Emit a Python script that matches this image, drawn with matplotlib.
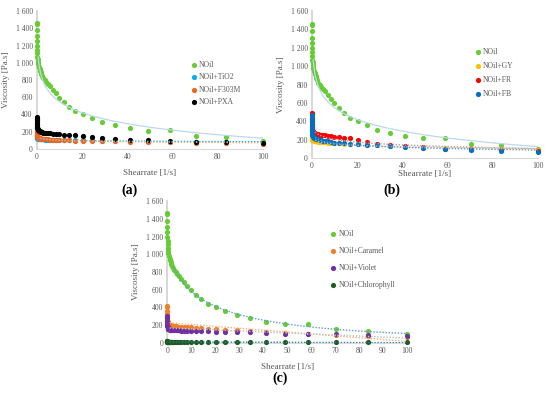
import numpy as np
import matplotlib
matplotlib.use("Agg")
import matplotlib.pyplot as plt
from matplotlib.ticker import FuncFormatter

plt.rcParams['font.family'] = ['Liberation Serif', 'DejaVu Serif']

# shear rate [1/s], same for all samples
shear = [0.01, 0.02, 0.03, 0.05, 0.07, 0.1, 0.14, 0.2, 0.27, 0.37, 0.5, 0.7,
         1.0, 1.2, 1.4, 1.7, 2.0, 2.4, 2.9, 3.5, 4.1, 4.9, 5.9, 7.0, 8.4, 10.0,
         11.9, 14.3, 17.0, 20.3, 24.3, 28.9, 34.6, 41.2, 49.2, 58.8, 70.2, 83.8, 100.0]

# viscosity [Pa.s]
noil = [1460, 1450, 1380, 1310, 1250, 1200, 1150, 1110, 1070, 1040, 1010, 980,
        950, 930, 910, 890, 870, 850, 820, 800, 775, 755, 725, 685, 645, 595,
        545, 490, 440, 400, 357, 310, 275, 238, 213, 218, 152, 138, 95]
# panel (a)
tio2 = [160, 150, 145, 140, 135, 130, 128, 125, 122, 120, 118, 116,
        115, 114, 113, 112, 111, 110, 110, 109, 108, 107, 106, 105, 104, 103,
        102, 101, 100, 99, 98, 96, 94, 92, 89, 86, 82, 78, 74]
f303m = [260, 240, 220, 200, 185, 170, 160, 150, 145, 140, 135, 130,
         128, 125, 122, 120, 118, 116, 114, 112, 111, 110, 108, 106, 104, 102,
         100, 98, 96, 94, 92, 90, 88, 86, 82, 78, 74, 68, 60]
pxa = [370, 360, 345, 330, 310, 290, 275, 260, 245, 235, 225, 218,
       212, 207, 203, 199, 196, 193, 190, 187, 185, 182, 180, 176, 172, 168,
       164, 160, 156, 150, 142, 128, 116, 108, 98, 90, 85, 76, 68]
# panel (b)
gy = [260, 245, 235, 225, 218, 212, 207, 203, 200, 197, 195, 193,
      190, 188, 186, 184, 182, 180, 178, 176, 174, 172, 170, 168, 166, 163,
      160, 157, 154, 150, 145, 138, 130, 122, 113, 105, 97, 90, 82]
fr = [495, 480, 450, 420, 390, 360, 340, 320, 305, 295, 285, 278,
      272, 268, 265, 262, 260, 258, 256, 254, 252, 250, 246, 242, 238, 233,
      228, 222, 214, 196, 172, 152, 138, 130, 116, 102, 94, 82, 80]
fb = [470, 440, 400, 370, 340, 310, 290, 270, 255, 245, 235, 228,
      222, 218, 215, 212, 209, 206, 203, 200, 196, 190, 186, 180, 175, 168,
      163, 158, 154, 149, 144, 138, 130, 123, 109, 94, 87, 73, 65]
# panel (c)
caramel = [420, 400, 360, 320, 290, 260, 240, 230, 220, 215, 210, 205,
           200, 198, 196, 194, 192, 190, 188, 186, 184, 182, 180, 178, 176, 174,
           170, 166, 162, 158, 150, 142, 132, 122, 112, 100, 90, 78, 62]
violet = [300, 280, 250, 220, 200, 185, 175, 168, 162, 158, 155, 152,
          150, 148, 147, 146, 145, 144, 143, 142, 141, 140, 139, 138, 137, 136,
          135, 133, 131, 128, 125, 122, 118, 112, 105, 96, 95, 90, 80]
chloro = [20, 18, 16, 15, 14, 13, 12, 11, 11, 10, 10, 9,
          9, 9, 8, 8, 8, 8, 8, 7, 7, 7, 7, 7, 7, 6,
          6, 6, 6, 6, 6, 5, 5, 5, 5, 5, 5, 5, 5]

GRAY = "#595959"
x = np.array(shear)
DOT = (0, (1, 1.2))


def style_axes(ax, xticks, xpad):
    ax.set_xlim(0, 100)
    ax.set_ylim(0, 1600)
    ax.set_xticks(xticks)
    ax.set_yticks(range(0, 1601, 200))
    ax.yaxis.set_major_formatter(FuncFormatter(lambda v, p: f"{v:,.0f}".replace(",", " ")))
    ax.tick_params(length=0, labelsize=5.5, labelcolor=GRAY, pad=3)
    for s in ["top", "right"]:
        ax.spines[s].set_visible(False)
    ax.spines["left"].set_color("#D4D4D4")
    ax.spines["left"].set_linewidth(1.3)
    ax.spines["bottom"].set_color("#D9D9D9")
    ax.spines["bottom"].set_linewidth(0.8)
    ax.set_ylabel("Viscosity [Pa.s]", fontsize=6.5, color=GRAY, labelpad=4)
    ax.set_xlabel("Shearrate [1/s]", fontsize=6.5, color=GRAY, labelpad=xpad)


def log_trend(ax, y, color, ls, lw, xmin=1.0, start=1.5):
    m = x >= xmin
    b, a = np.polyfit(np.log(x[m]), np.array(y)[m], 1)
    xx = np.linspace(start, 100, 300)
    ax.plot(xx, a + b * np.log(xx), color=color, ls=ls, lw=lw, zorder=4)


def lin_trend(ax, y, color):
    k, c = np.polyfit(x, np.array(y), 1)
    xx = np.array([1.0, 100.0])
    ax.plot(xx, c + k * xx, color=color, ls=DOT, lw=1.0, zorder=4)


def dots(ax, y, color, label):
    ax.scatter(x, y, s=14, color=color, label=label, zorder=3, clip_on=False, linewidths=0)


def legend(ax, bx, by, spacing):
    ax.legend(loc="upper left", bbox_to_anchor=(bx, by), frameon=False, fontsize=5.5,
              handletextpad=0.1, labelspacing=spacing, borderaxespad=0, handlelength=1.2,
              labelcolor=GRAY)


fig = plt.figure(figsize=(5.5, 3.95), dpi=100)

# (a)
ax = fig.add_axes([0.067, 0.623, 0.411, 0.349])
dots(ax, noil, "#66CC33", "NOil")
dots(ax, tio2, "#00B0F0", "NOil+TiO2")
dots(ax, f303m, "#F0641E", "NOil+F303M")
dots(ax, pxa, "#000000", "NOil+PXA")
log_trend(ax, noil, "#BDD7EE", "-", 0.9, xmin=0.3, start=0.6)
log_trend(ax, tio2, "#00B0F0", DOT, 1.0)
log_trend(ax, f303m, "#F4B183", DOT, 1.0)
style_axes(ax, range(0, 101, 20), 6)
legend(ax, 0.66, 0.66, 0.57)

# (b)
ax = fig.add_axes([0.567, 0.600, 0.411, 0.372])
dots(ax, noil, "#66CC33", "NOil")
dots(ax, gy, "#FFC000", "NOil+GY")
dots(ax, fr, "#FF0000", "NOil+FR")
dots(ax, fb, "#0070C0", "NOil+FB")
log_trend(ax, noil, "#BDD7EE", "-", 0.9, xmin=0.3, start=0.6)
log_trend(ax, fr, "#A6A6A6", DOT, 1.0)
log_trend(ax, gy, "#F4B183", DOT, 1.0)
log_trend(ax, fb, "#5B9BD5", DOT, 1.0)
style_axes(ax, range(0, 101, 20), 0)
legend(ax, 0.70, 0.77, 0.8)

# (c)
ax = fig.add_axes([0.304, 0.132, 0.436, 0.359])
dots(ax, noil, "#66CC33", "NOil")
dots(ax, caramel, "#F07F2A", "NOil+Caramel")
dots(ax, violet, "#7030A0", "NOil+Violet")
dots(ax, chloro, "#1E5C1E", "NOil+Chlorophyll")
m = x >= 1
p = np.polyfit(np.log(x[m]), np.array(noil)[m], 3)
xx = np.linspace(2.5, 100, 200)
ax.plot(xx, np.polyval(p, np.log(xx)), color="#5B9BD5", ls=DOT, lw=1.0, zorder=4)
lin_trend(ax, caramel, "#F4B183")
lin_trend(ax, violet, "#BFBFBF")
lin_trend(ax, chloro, "#2E75B6")
style_axes(ax, range(0, 101, 10), 6)
legend(ax, 0.66, 0.82, 1.18)

fig.text(0.236, 0.519, "(a)", fontsize=10, fontweight="bold", ha="center", va="center")
fig.text(0.713, 0.519, "(b)", fontsize=10, fontweight="bold", ha="center", va="center")
fig.text(0.509, 0.043, "(c)", fontsize=10, fontweight="bold", ha="center", va="center")

fig.savefig("out.png", dpi=100)
